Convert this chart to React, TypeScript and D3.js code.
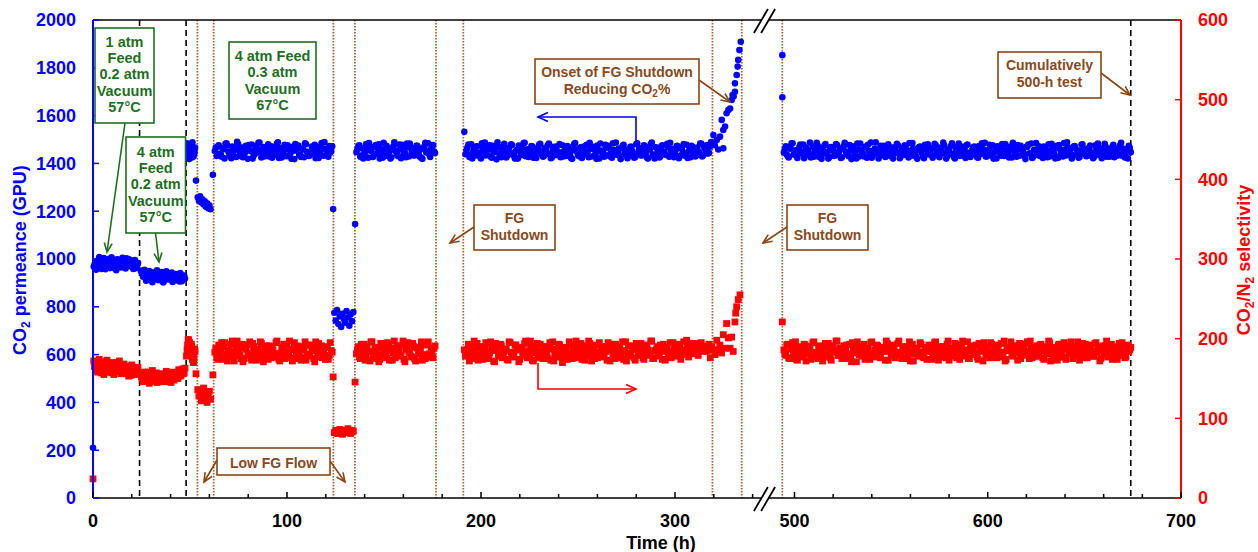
import React from 'react';
import * as d3 from 'd3';

// ---------------- DATA ----------------
// Regularly sampled blocks (start time, step in h) shared by both series
const blockStart = [0.4, 24.6, 48.2, 54.0, 62.8, 124.4, 135.8, 192.0, 494.5];
const blockStep = [0.8, 0.8, 0.55, 0.6, 1, 0.7, 1, 1, 1];
// second, interleaved set of readings in the long runs
const block2Start = [0.8, 25.0, 48.5, 63.3, 136.3, 192.5, 495.0];
const block2Step = [0.8, 0.8, 0.55, 1, 1, 1, 1];

// CO2 permeance (GPU)
const perm_0_24 = [968, 985, 961, 990, 972, 958, 984, 995, 970, 988, 1001, 976, 963, 992, 983, 999, 971, 987, 996, 966, 982, 1003, 978, 990, 969, 994, 981, 962, 975];
const perm_24_48 = [952, 940, 931, 946, 918, 937, 925, 944, 912, 933, 921, 948, 916, 929, 939, 908, 926, 935, 914, 930, 943, 919, 910, 927, 936, 906, 922, 915, 931];
const perm_48_53 = [1452, 1431, 1470, 1442, 1478, 1425, 1461, 1437, 1466];
const perm_54_61 = [1258, 1244, 1262, 1236, 1250, 1228, 1241, 1219, 1233, 1212, 1225, 1208];
const perm_62_123 = [
  1452, 1431, 1476, 1440, 1463, 1421, 1484, 1449, 1435, 1470,
  1458, 1427, 1481, 1444, 1466, 1438, 1474, 1419, 1455, 1479,
  1433, 1461, 1446, 1487, 1425, 1468, 1441, 1457, 1429, 1472,
  1450, 1436, 1483, 1423, 1464, 1447, 1478, 1430, 1459, 1443,
  1469, 1418, 1454, 1475, 1437, 1462, 1426, 1480, 1448, 1434,
  1471, 1456, 1422, 1467, 1445, 1485, 1432, 1460, 1439, 1473, 1451];
const perm_124_135 = [775, 742, 786, 728, 760, 716, 771, 749, 733, 782, 755, 721, 768, 740, 778];
const perm_135_177 = [
  1447, 1473, 1428, 1462, 1439, 1481, 1424, 1456, 1468, 1435,
  1477, 1443, 1420, 1459, 1486, 1431, 1465, 1449, 1426, 1471,
  1453, 1437, 1479, 1422, 1461, 1444, 1483, 1429, 1467, 1452,
  1434, 1475, 1441, 1458, 1419, 1470, 1446, 1484, 1427, 1463, 1450];
const perm_192_317 = [
  1438, 1466, 1427, 1480, 1451, 1433, 1472, 1445, 1421, 1462,
  1487, 1436, 1458, 1429, 1474, 1448, 1417, 1469, 1441, 1455,
  1482, 1425, 1463, 1439, 1477, 1432, 1452, 1420, 1467, 1446,
  1485, 1430, 1459, 1443, 1473, 1424, 1456, 1437, 1479, 1449,
  1428, 1465, 1440, 1483, 1422, 1461, 1434, 1470, 1447, 1426,
  1476, 1453, 1431, 1468, 1444, 1419, 1481, 1457, 1435, 1464,
  1423, 1471, 1442, 1450, 1486, 1429, 1460, 1438, 1475, 1421,
  1454, 1445, 1478, 1433, 1466, 1427, 1484, 1448, 1436, 1462,
  1418, 1473, 1441, 1457, 1430, 1469, 1452, 1424, 1480, 1439,
  1463, 1434, 1476, 1446, 1420, 1458, 1487, 1431, 1467, 1443,
  1425, 1472, 1449, 1437, 1482, 1428, 1455, 1461, 1440, 1474,
  1422, 1465, 1447, 1432, 1478, 1451, 1426, 1469, 1444, 1459,
  1436, 1483, 1429, 1470, 1453, 1441];
const perm_494_674 = [
  1446, 1472, 1430, 1461, 1484, 1437, 1455, 1423, 1468, 1449,
  1479, 1433, 1458, 1441, 1425, 1470, 1452, 1486, 1428, 1463,
  1439, 1475, 1447, 1420, 1466, 1454, 1431, 1481, 1443, 1460,
  1426, 1473, 1450, 1436, 1477, 1418, 1464, 1445, 1483, 1429,
  1457, 1440, 1469, 1424, 1453, 1487, 1434, 1462, 1448, 1421,
  1474, 1438, 1459, 1430, 1480, 1451, 1427, 1467, 1444, 1476,
  1422, 1456, 1435, 1471, 1449, 1485, 1432, 1463, 1441, 1419,
  1468, 1453, 1428, 1478, 1446, 1437, 1461, 1424, 1482, 1450,
  1433, 1466, 1442, 1475, 1420, 1458, 1439, 1484, 1427, 1462,
  1447, 1431, 1470, 1455, 1423, 1479, 1445, 1436, 1467, 1452,
  1426, 1473, 1440, 1460, 1486, 1429, 1457, 1434, 1476, 1448,
  1421, 1465, 1443, 1481, 1431, 1454, 1438, 1470, 1425, 1463,
  1450, 1477, 1432, 1459, 1444, 1418, 1469, 1441, 1483, 1428,
  1456, 1436, 1472, 1447, 1423, 1464, 1452, 1480, 1430, 1461,
  1439, 1474, 1424, 1458, 1445, 1485, 1433, 1467, 1449, 1420,
  1471, 1437, 1455, 1427, 1478, 1442, 1460, 1431, 1466, 1446,
  1422, 1475, 1451, 1435, 1463, 1440, 1482, 1428, 1457, 1444,
  1469, 1426, 1453, 1438, 1476, 1432, 1461, 1448, 1421, 1465];
// interleaved readings
const perm2_0_24 = [978, 955, 993, 1008, 964, 980, 1004, 957, 989, 975, 962, 1007, 985, 972, 953, 997, 988, 965, 1005, 979, 960, 992, 1000, 973, 986, 958, 996, 970, 983];
const perm2_24_48 = [947, 926, 955, 909, 938, 950, 921, 903, 942, 930, 953, 911, 924, 945, 902, 934, 949, 917, 928, 940, 904, 925, 937, 913, 920, 941, 907, 929, 918];
const perm2_48_53 = [1484, 1440, 1418, 1473, 1457, 1488, 1429, 1447];
const perm2_62_123 = [
  1466, 1471, 1440, 1428, 1459, 1482, 1475, 1436, 1422, 1448,
  1457, 1490, 1463, 1430, 1426, 1445, 1468, 1477, 1451, 1420,
  1438, 1473, 1486, 1455, 1434, 1429, 1461, 1480, 1443, 1424,
  1450, 1469, 1488, 1447, 1425, 1439, 1464, 1476, 1432, 1419,
  1453, 1481, 1470, 1435, 1427, 1458, 1484, 1449, 1431, 1441,
  1467, 1478, 1444, 1423, 1437, 1462, 1489, 1456, 1428, 1446, 1472];
const perm2_135_177 = [
  1460, 1476, 1433, 1421, 1448, 1470, 1485, 1452, 1427, 1439,
  1466, 1480, 1444, 1424, 1457, 1474, 1436, 1420, 1462, 1488,
  1449, 1430, 1458, 1478, 1441, 1426, 1468, 1483, 1447, 1433,
  1455, 1472, 1429, 1423, 1464, 1486, 1451, 1438, 1461, 1477, 1443];
const perm2_192_317 = [
  1455, 1479, 1436, 1421, 1463, 1470, 1442, 1428, 1484, 1451,
  1433, 1467, 1476, 1424, 1446, 1459, 1488, 1438, 1426, 1472,
  1449, 1431, 1465, 1480, 1443, 1420, 1457, 1475, 1434, 1462,
  1486, 1447, 1427, 1453, 1471, 1439, 1423, 1466, 1482, 1450,
  1432, 1460, 1477, 1441, 1425, 1469, 1456, 1435, 1481, 1444,
  1429, 1464, 1473, 1437, 1422, 1458, 1485, 1448, 1430, 1467,
  1452, 1440, 1478, 1426, 1461, 1470, 1434, 1419, 1454, 1483,
  1445, 1428, 1466, 1474, 1439, 1424, 1457, 1487, 1446, 1431,
  1463, 1478, 1436, 1422, 1451, 1469, 1442, 1427, 1484, 1459,
  1433, 1447, 1472, 1425, 1460, 1480, 1438, 1421, 1465, 1453,
  1430, 1476, 1449, 1435, 1468, 1486, 1443, 1426, 1458, 1471,
  1432, 1462, 1481, 1440, 1423, 1455, 1474, 1437, 1429, 1466,
  1448, 1483, 1434, 1461, 1477, 1444];
const perm2_494_674 = [
  1462, 1437, 1425, 1470, 1484, 1448, 1431, 1456, 1479, 1440,
  1422, 1466, 1453, 1487, 1434, 1428, 1460, 1475, 1445, 1419,
  1451, 1481, 1438, 1426, 1468, 1457, 1433, 1477, 1449, 1423,
  1464, 1486, 1441, 1430, 1455, 1472, 1436, 1421, 1459, 1483,
  1446, 1429, 1467, 1478, 1439, 1424, 1452, 1488, 1443, 1432,
  1461, 1474, 1427, 1450, 1469, 1435, 1420, 1458, 1482, 1447,
  1431, 1465, 1476, 1442, 1425, 1454, 1485, 1438, 1428, 1463,
  1471, 1444, 1422, 1457, 1480, 1449, 1434, 1466, 1477, 1437,
  1426, 1460, 1487, 1445, 1430, 1452, 1473, 1440, 1421, 1468,
  1483, 1451, 1433, 1462, 1476, 1439, 1427, 1456, 1470, 1446,
  1424, 1464, 1484, 1441, 1429, 1453, 1478, 1436, 1420, 1459,
  1472, 1448, 1432, 1467, 1481, 1443, 1425, 1455, 1486, 1438,
  1428, 1461, 1474, 1450, 1434, 1469, 1479, 1442, 1423, 1457,
  1485, 1447, 1431, 1463, 1470, 1437, 1426, 1454, 1482, 1445,
  1421, 1466, 1477, 1440, 1429, 1458, 1488, 1448, 1433, 1464,
  1473, 1439, 1424, 1452, 1480, 1446, 1430, 1460, 1475, 1441,
  1427, 1468, 1483, 1444, 1422, 1456, 1471, 1435, 1428, 1462,
  1478, 1449, 1432, 1465, 1486, 1443, 1425, 1457, 1474, 1447];
const permSingles: [number, number][] = [[0, 210], [53.1, 1328], [61.8, 1352], [123.8, 1209], [135.1, 1146], [191.4, 1532], [493.7, 1853], [493.7, 1677]];
const permRise: [number, number][] = [[318.0, 1470], [318.6, 1489], [319.8, 1519], [320.5, 1476], [321.5, 1498], [322.3, 1458], [323.2, 1512], [324.1, 1582], [324.9, 1540], [324.9, 1463], [325.8, 1554], [326.6, 1610], [327.5, 1623], [328.4, 1630], [329.2, 1665], [329.7, 1686], [330.2, 1680], [330.9, 1700], [330.9, 1735], [331.8, 1770], [332.3, 1805], [332.6, 1833], [333.2, 1874], [333.9, 1909]];

// CO2/N2 selectivity
const sel_0_24 = [172, 166, 160, 169, 163, 157, 167, 171, 161, 165, 158, 168, 162, 155, 166, 170, 159, 164, 157, 168, 161, 156, 165, 160, 154, 163, 158, 162, 156];
const sel_24_48 = [156, 150, 147, 153, 158, 149, 146, 154, 151, 148, 157, 150, 146, 152, 155, 148, 151, 147, 156, 153, 149, 158, 152, 155, 150, 160, 154, 162, 157];
const sel_48_53 = [178, 192, 198, 195, 186, 190, 181, 176, 184];
const sel_54_61 = [136, 128, 133, 122, 130, 138, 125, 131, 120, 127, 134, 124];
const sel_62_123 = [
  183, 176, 192, 188, 174, 195, 181, 186, 178, 197,
  172, 189, 184, 179, 193, 175, 187, 182, 196, 173,
  190, 180, 185, 177, 194, 171, 188, 183, 191, 176,
  186, 179, 197, 174, 182, 189, 175, 193, 181, 187,
  172, 195, 184, 178, 190, 176, 186, 173, 192, 180,
  188, 175, 196, 182, 177, 191, 184, 174, 189, 179, 185];
const sel_124_135 = [82, 85, 81, 84, 86, 83, 80, 85, 82, 84, 87, 83, 81, 85, 84];
const sel_135_177 = [
  181, 190, 175, 187, 193, 178, 184, 172, 196, 183,
  177, 189, 174, 192, 186, 180, 195, 173, 188, 182,
  176, 191, 185, 179, 197, 171, 187, 183, 178, 194,
  175, 189, 181, 186, 173, 192, 180, 196, 177, 184, 188];
const sel_192_317 = [
  178, 186, 172, 191, 183, 175, 194, 180, 188, 174,
  190, 182, 177, 196, 185, 171, 189, 179, 193, 176,
  184, 187, 173, 195, 181, 178, 192, 186, 174, 189,
  183, 197, 176, 180, 191, 172, 186, 194, 179, 185,
  175, 190, 182, 188, 173, 196, 181, 177, 193, 184,
  170, 189, 186, 178, 192, 175, 183, 197, 180, 187,
  174, 191, 185, 179, 194, 172, 188, 182, 176, 195,
  184, 178, 190, 173, 186, 193, 181, 175, 189, 183,
  177, 196, 185, 172, 191, 180, 187, 176, 194, 182,
  179, 188, 174, 192, 186, 181, 197, 175, 184, 190,
  178, 185, 193, 173, 189, 182, 176, 195, 187, 180,
  191, 174, 186, 183, 198, 177, 188, 181, 192, 185,
  179, 194, 184, 188, 190, 186];
const sel_494_674 = [
  186, 179, 193, 175, 188, 182, 196, 173, 190, 184,
  177, 192, 181, 187, 174, 195, 183, 178, 191, 185,
  172, 189, 180, 194, 176, 186, 183, 197, 179, 188,
  175, 191, 184, 178, 193, 171, 187, 182, 196, 180,
  185, 190, 174, 188, 181, 195, 177, 186, 192, 183,
  176, 189, 184, 197, 173, 191, 180, 187, 179, 194,
  182, 175, 190, 185, 178, 196, 183, 172, 188, 186,
  181, 193, 177, 189, 174, 192, 184, 179, 195, 187,
  173, 190, 182, 186, 176, 197, 181, 188, 178, 193,
  185, 174, 191, 183, 180, 196, 175, 187, 189, 182,
  177, 194, 184, 172, 190, 186, 179, 195, 181, 188,
  176, 192, 183, 178, 197, 174, 189, 185, 180, 191,
  187, 173, 194, 182, 186, 179, 196, 175, 188, 184,
  178, 191, 181, 193, 176, 187, 183, 197, 172, 189,
  185, 180, 192, 177, 186, 195, 174, 188, 182, 190,
  179, 184, 196, 173, 187, 181, 193, 176, 189, 185,
  178, 194, 183, 186, 175, 191, 180, 197, 184, 188,
  174, 190, 182, 187, 179, 195, 183, 177, 192, 186];
// interleaved readings
const sel2_0_24 = [165, 171, 158, 174, 162, 169, 155, 166, 173, 160, 164, 157, 170, 163, 159, 167, 172, 156, 161, 168, 159, 165, 153, 162, 167, 157, 160, 155, 164];
const sel2_24_48 = [152, 146, 158, 149, 155, 144, 150, 160, 147, 153, 145, 151, 156, 148, 154, 146, 159, 150, 152, 145, 155, 148, 157, 151, 161, 153, 158, 156, 163];
const sel2_48_53 = [186, 199, 188, 180, 193, 174, 170, 187];
const sel2_62_123 = [
  188, 174, 181, 195, 190, 177, 172, 185, 193, 183,
  179, 197, 186, 175, 171, 189, 192, 180, 176, 194,
  184, 173, 187, 196, 182, 178, 191, 174, 185, 190,
  177, 195, 181, 172, 188, 193, 179, 184, 197, 176,
  186, 175, 191, 183, 173, 189, 196, 180, 178, 192,
  185, 171, 187, 194, 182, 176, 190, 179, 174, 195, 183];
const sel2_135_177 = [
  186, 177, 193, 180, 173, 190, 184, 196, 175, 188,
  182, 171, 194, 179, 187, 176, 191, 185, 173, 197,
  181, 189, 178, 192, 174, 186, 195, 183, 177, 190,
  172, 188, 184, 196, 179, 175, 193, 181, 187, 176, 191];
const sel2_192_317 = [
  184, 193, 176, 181, 197, 188, 173, 190, 179, 186,
  195, 175, 182, 189, 172, 194, 185, 178, 191, 180,
  187, 174, 196, 183, 177, 192, 186, 171, 189, 181,
  194, 178, 185, 197, 173, 188, 182, 176, 193, 184,
  179, 190, 175, 195, 187, 172, 186, 180, 192, 177,
  189, 183, 174, 196, 181, 185, 191, 176, 178, 194,
  182, 173, 188, 197, 180, 186, 175, 192, 183, 179,
  190, 177, 184, 195, 172, 187, 181, 193, 176, 189,
  185, 174, 196, 182, 178, 191, 186, 173, 188, 180,
  194, 176, 183, 190, 179, 197, 175, 185, 187, 181,
  192, 174, 189, 184, 177, 195, 182, 186, 178, 193,
  188, 180, 196, 185, 191, 183, 187, 194, 189, 192,
  186, 195, 188, 191, 184, 193];
const sel2_494_674 = [
  181, 192, 176, 187, 195, 183, 174, 189, 179, 186,
  193, 172, 185, 190, 178, 196, 182, 175, 188, 184,
  177, 194, 180, 186, 173, 191, 185, 197, 179, 183,
  188, 175, 192, 181, 176, 195, 184, 171, 190, 186,
  178, 193, 182, 187, 174, 196, 180, 185, 191, 177,
  184, 189, 173, 194, 186, 179, 192, 176, 183, 197,
  180, 187, 175, 190, 185, 172, 193, 181, 188, 178,
  195, 183, 176, 189, 184, 191, 174, 186, 196, 179,
  182, 190, 177, 185, 193, 173, 188, 181, 194, 176,
  187, 183, 197, 178, 186, 175, 191, 184, 180, 192,
  174, 189, 185, 195, 179, 182, 176, 193, 187, 181,
  190, 177, 194, 183, 172, 188, 185, 196, 178, 186,
  182, 191, 175, 187, 193, 180, 184, 197, 176, 189,
  183, 178, 192, 185, 174, 190, 181, 195, 187, 179,
  186, 173, 193, 184, 177, 191, 188, 182, 196, 175,
  185, 190, 179, 183, 194, 176, 187, 181, 192, 184,
  178, 195, 186, 172, 189, 183, 191, 177, 185, 193,
  180, 188, 174, 194, 182, 187, 176, 190, 184, 189];
const selSingles: [number, number][] = [[0, 24], [53.1, 156], [61.8, 154.5], [123.8, 152], [135.1, 145.5], [191.4, 186], [493.7, 221]];
const selRise: [number, number][] = [[318.2, 176], [319.0, 190], [319.8, 186], [320.6, 180], [321.5, 198], [322.4, 185], [323.1, 192], [324.0, 182], [324.9, 205], [325.8, 188], [326.6, 219], [327.5, 201], [328.4, 188], [329.2, 202], [330.0, 184], [330.9, 221], [331.3, 232], [331.8, 240], [332.6, 249], [333.5, 255]];

const permBlocks = [perm_0_24, perm_24_48, perm_48_53, perm_54_61, perm_62_123, perm_124_135, perm_135_177, perm_192_317, perm_494_674];
const selBlocks = [sel_0_24, sel_24_48, sel_48_53, sel_54_61, sel_62_123, sel_124_135, sel_135_177, sel_192_317, sel_494_674];
const permBlocks2 = [perm2_0_24, perm2_24_48, perm2_48_53, perm2_62_123, perm2_135_177, perm2_192_317, perm2_494_674];
const selBlocks2 = [sel2_0_24, sel2_24_48, sel2_48_53, sel2_62_123, sel2_135_177, sel2_192_317, sel2_494_674];

// event lines (h)
const conditionChanges = [24, 48, 674];
const fgEvents = [53.8, 62.2, 123.9, 135, 176.8, 190.9, 319.3, 334.4, 493.7];

// axis ticks
const xTicksBefore = [0, 20, 40, 60, 80, 100, 120, 140, 160, 180, 200, 220, 240, 260, 280, 300, 320, 340];
const xTicksAfter = [500, 520, 540, 560, 580, 600, 620, 640, 660, 680, 700];
const xTickLabels = [0, 100, 200, 300, 500, 600, 700];
const yLeftTicks = [0, 200, 400, 600, 800, 1000, 1200, 1400, 1600, 1800, 2000];
const yRightTicks = [0, 100, 200, 300, 400, 500, 600];

// ---------------- LAYOUT ----------------
const W = 1258, H = 552;
const L = 93, R = 1181, T = 20, B = 498;
const FONT = "'Liberation Sans', Arial, Helvetica, sans-serif";
const BLUE = '#0000FF', RED = '#FF0000', GREEN = '#1F6F1F', BROWN = '#8B4513', BROWN_T = '#874A1E';

const xA = d3.scaleLinear().domain([0, 300]).range([L, 675]);
const xB = d3.scaleLinear().domain([500, 700]).range([794.5, R]);
const x = (t: number) => (t < 420 ? xA(t) : xB(t));
const yL = d3.scaleLinear().domain([0, 2000]).range([B, T]);
const yR = d3.scaleLinear().domain([0, 600]).range([B, T]);

function expand(blocks: number[][], starts: number[], steps: number[]) {
  const pts: [number, number][] = [];
  blocks.forEach((vals, k) => vals.forEach((v, i) => pts.push([starts[k] + i * steps[k], v])));
  return pts;
}
const permPts = expand(permBlocks, blockStart, blockStep)
  .concat(expand(permBlocks2, block2Start, block2Step), permSingles, permRise);
const selPts = expand(selBlocks, blockStart, blockStep)
  .concat(expand(selBlocks2, block2Start, block2Step), selSingles, selRise);

function head(x1: number, y1: number, x2: number, y2: number, len = 9, hw = 4) {
  const a = Math.atan2(y2 - y1, x2 - x1);
  const bx = x2 - len * Math.cos(a), by = y2 - len * Math.sin(a);
  const px = -Math.sin(a) * hw, py = Math.cos(a) * hw;
  return `M${bx + px},${by + py}L${x2},${y2}L${bx - px},${by - py}`;
}

function Arrow({ x1, y1, x2, y2, color, len = 9, hw = 4 }: any) {
  return (
    <g stroke={color} strokeWidth={1.6} fill="none">
      <path d={`M${x1},${y1}L${x2},${y2}`} />
      <path d={head(x1, y1, x2, y2, len, hw)} />
    </g>
  );
}

function Box({ x0, y0, w, h, lines, color, tcolor, fs, base, lh }: any) {
  const cx = x0 + w / 2;
  return (
    <g>
      <rect x={x0} y={y0} width={w} height={h} fill="#fff" stroke={color} strokeWidth={1.6} />
      <text fontFamily={FONT} fontWeight="bold" fontSize={fs} fill={tcolor} textAnchor="middle">
        {lines.map((ln: any, i: number) => (
          <tspan key={i} x={cx} y={base + i * lh}>{ln}</tspan>
        ))}
      </text>
    </g>
  );
}

function BreakMark({ cx, cy }: { cx: number; cy: number }) {
  const o = 3.6, dx = 7, dy = 12;
  return (
    <g>
      <polygon points={`${cx - o - dx},${cy + dy} ${cx - o + dx},${cy - dy} ${cx + o + dx},${cy - dy} ${cx + o - dx},${cy + dy}`} fill="#fff" />
      <path d={`M${cx - o - dx},${cy + dy}L${cx - o + dx},${cy - dy}M${cx + o - dx},${cy + dy}L${cx + o + dx},${cy - dy}`} stroke="#000" strokeWidth={1.8} />
    </g>
  );
}

export default function App() {
  return (
    <>
      <style>{'body{margin:0}'}</style>
      <svg width={W} height={H} style={{ display: 'block' }} xmlns="http://www.w3.org/2000/svg">
        <rect width={W} height={H} fill="#fff" />
        {/* event lines */}
        {fgEvents.map((t) => (
          <line key={'f' + t} x1={x(t)} x2={x(t)} y1={T} y2={B} stroke="#A65A2A" strokeWidth={1.7} strokeDasharray="1.5,1.5" />
        ))}
        {conditionChanges.map((t) => (
          <line key={'c' + t} x1={x(t)} x2={x(t)} y1={T} y2={B} stroke="#000" strokeWidth={1.6} strokeDasharray="6,4" />
        ))}

        {/* data */}
        <g fill={BLUE}>
          {permPts.map(([t, v], i) => (
            <circle key={i} cx={x(t)} cy={yL(v)} r={3.3} />
          ))}
        </g>
        <g fill={RED}>
          {selPts.map(([t, v], i) => (
            <rect key={i} x={x(t) - 3.4} y={yR(v) - 3.4} width={6.8} height={6.8} />
          ))}
        </g>

        {/* axes */}
        <line x1={L} x2={R} y1={T} y2={T} stroke="#000" strokeWidth={1.6} />
        <line x1={L} x2={R} y1={B} y2={B} stroke="#000" strokeWidth={1.6} />
        <line x1={L} x2={L} y1={T} y2={B} stroke={BLUE} strokeWidth={2} />
        <line x1={R} x2={R} y1={T} y2={B} stroke={RED} strokeWidth={2} />
        {xTicksBefore.concat(xTicksAfter).map((t) => (
          <line key={'xt' + t} x1={x(t)} x2={x(t)} y1={B} y2={B - (t % 100 === 0 ? 6 : 4)} stroke="#000" strokeWidth={1.5} />
        ))}
        {yLeftTicks.map((v) => (
          <line key={'yl' + v} x1={L} x2={L + 6} y1={yL(v)} y2={yL(v)} stroke={BLUE} strokeWidth={1.5} />
        ))}
        {yRightTicks.map((v) => (
          <line key={'yr' + v} x1={R} x2={R - 6} y1={yR(v)} y2={yR(v)} stroke={RED} strokeWidth={1.5} />
        ))}
        <BreakMark cx={764.5} cy={21} />
        <BreakMark cx={764.5} cy={499} />

        {/* tick labels */}
        <g fontFamily={FONT} fontWeight="bold" fontSize={18}>
          {xTickLabels.map((t) => (
            <text key={'xl' + t} x={x(t)} y={527} textAnchor="middle" fill="#000">{t}</text>
          ))}
          {yLeftTicks.map((v) => (
            <text key={'yll' + v} x={76} y={yL(v)} dy="0.35em" textAnchor="end" fill={BLUE}>{v}</text>
          ))}
          {yRightTicks.map((v) => (
            <text key={'yrl' + v} x={1198} y={yR(v)} dy="0.35em" textAnchor="start" fill={RED}>{v}</text>
          ))}
          <text x={661} y={549} textAnchor="middle" fill="#000">Time (h)</text>
          <text transform="translate(26,260) rotate(-90)" textAnchor="middle" fill={BLUE}>
            CO<tspan fontSize={12} dy={4}>2</tspan><tspan dy={-4}> permeance (GPU)</tspan>
          </text>
          <text transform="translate(1250,260) rotate(-90)" textAnchor="middle" fill={RED}>
            CO<tspan fontSize={12} dy={4}>2</tspan><tspan dy={-4}>/N</tspan><tspan fontSize={12} dy={4}>2</tspan><tspan dy={-4}> selectivity</tspan>
          </text>
        </g>

        {/* series arrows */}
        <g stroke={BLUE} strokeWidth={1.6} fill="none">
          <path d="M636,142L636,117L538,117" />
          <path d={head(636, 117, 538, 117, 10, 4.5)} />
        </g>
        <g stroke={RED} strokeWidth={1.6} fill="none">
          <path d="M538,363L538,389L636,389" />
          <path d={head(538, 389, 636, 389, 10, 4.5)} />
        </g>

        {/* annotation arrows */}
        <Arrow x1={125} y1={123} x2={107} y2={252} color={GREEN} />
        <Arrow x1={155.5} y1={233} x2={159} y2={262} color={GREEN} />
        <Arrow x1={217} y1={460} x2={204} y2={482} color={BROWN} />
        <Arrow x1={330} y1={461} x2={345} y2={482} color={BROWN} />
        <Arrow x1={474} y1={227} x2={450} y2={243} color={BROWN} />
        <Arrow x1={699} y1={80} x2={730} y2={102} color={BROWN} />
        <Arrow x1={787} y1={227} x2={763} y2={243} color={BROWN} />
        <Arrow x1={1101} y1={73} x2={1130} y2={95} color={BROWN} />

        {/* annotation boxes */}
        <Box x0={95} y0={28} w={59} h={95} lines={['1 atm', 'Feed', '0.2 atm', 'Vacuum', '57°C']} color={GREEN} tcolor={GREEN} fs={14.5} base={47} lh={16.2} />
        <Box x0={126} y0={137} w={59.5} h={96} lines={['4 atm', 'Feed', '0.2 atm', 'Vacuum', '57°C']} color={GREEN} tcolor={GREEN} fs={14.5} base={157} lh={16.2} />
        <Box x0={229} y0={42} w={87} h={77} lines={['4 atm Feed', '0.3 atm', 'Vacuum', '67°C']} color={GREEN} tcolor={GREEN} fs={14.5} base={60.5} lh={16.5} />
        <Box x0={217} y0={448} w={113} h={27} lines={['Low FG Flow']} color={BROWN} tcolor={BROWN_T} fs={14} base={468} lh={17} />
        <Box x0={474} y0={205} w={81} h={45} lines={['FG', 'Shutdown']} color={BROWN} tcolor={BROWN_T} fs={14} base={223} lh={17} />
        <Box x0={535} y0={59} w={164} h={45} lines={['Onset of FG Shutdown', <>Reducing CO<tspan fontSize={10} dy={3}>2</tspan><tspan dy={-3}>%</tspan></>]} color={BROWN} tcolor={BROWN_T} fs={14} base={77} lh={17} />
        <Box x0={787} y0={205} w={81} h={45} lines={['FG', 'Shutdown']} color={BROWN} tcolor={BROWN_T} fs={14} base={223} lh={17} />
        <Box x0={998} y0={52} w={103} h={46} lines={['Cumulatively', '500-h test']} color={BROWN} tcolor={BROWN_T} fs={14} base={70} lh={17} />
      </svg>
    </>
  );
}
